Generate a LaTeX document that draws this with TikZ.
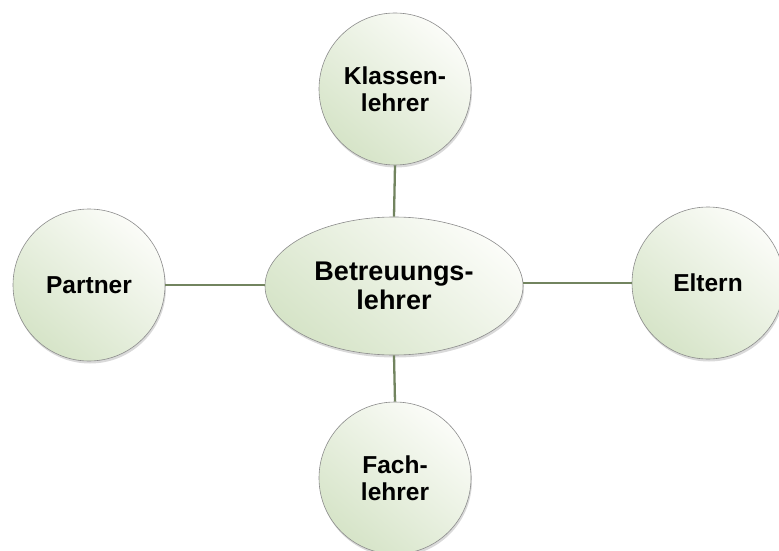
\documentclass[tikz,border=0pt]{standalone}
\usepackage{fontspec}
\setmainfont{Liberation Sans}
\usetikzlibrary{shapes.geometric,shadows}
\definecolor{fillA}{HTML}{D6E4C8}
\definecolor{fillB}{HTML}{FBFCF8}
\definecolor{edgeC}{HTML}{8C8C8C}
\definecolor{linkC}{HTML}{72845F}
\tikzset{
  bubble/.style={draw=edgeC, line width=0.6pt, inner sep=0pt,
    shading=axis, top color=fillB, bottom color=fillA, shading angle=-40,
    drop shadow={opacity=0.3, shadow xshift=1pt, shadow yshift=-2.5pt},
    align=center, text=black},
  smallbub/.style={bubble, circle, minimum size=152pt,
    font=\fontsize{24.5}{27}\selectfont\bfseries},
  bigbub/.style={bubble, ellipse, minimum width=258pt, minimum height=138pt,
    font=\fontsize{27}{29.5}\selectfont\bfseries},
  link/.style={draw=linkC, line width=2.3pt}
}
\begin{document}
\begin{tikzpicture}[x=1pt,y=1pt]
\useasboundingbox (0,0) rectangle (779,550);
\clip (0,0) rectangle (779,550);
\node[bigbub] (mid) at (394,264) {Betreuungs-\\lehrer};
\node[smallbub] (top) at (395,461) {Klassen-\\lehrer};
\node[smallbub] (left) at (89,265) {Partner};
\node[smallbub] (right) at (708,267) {Eltern};
\node[smallbub] (bot) at (395,72) {Fach-\\lehrer};
\draw[link] (top.south) -- (mid.north);
\draw[link] (left.east) -- (left.east -| mid.west);
\draw[link] (right.west) -- (right.west -| mid.east);
\draw[link] (mid.south) -- (bot.north);
\end{tikzpicture}
\end{document}
